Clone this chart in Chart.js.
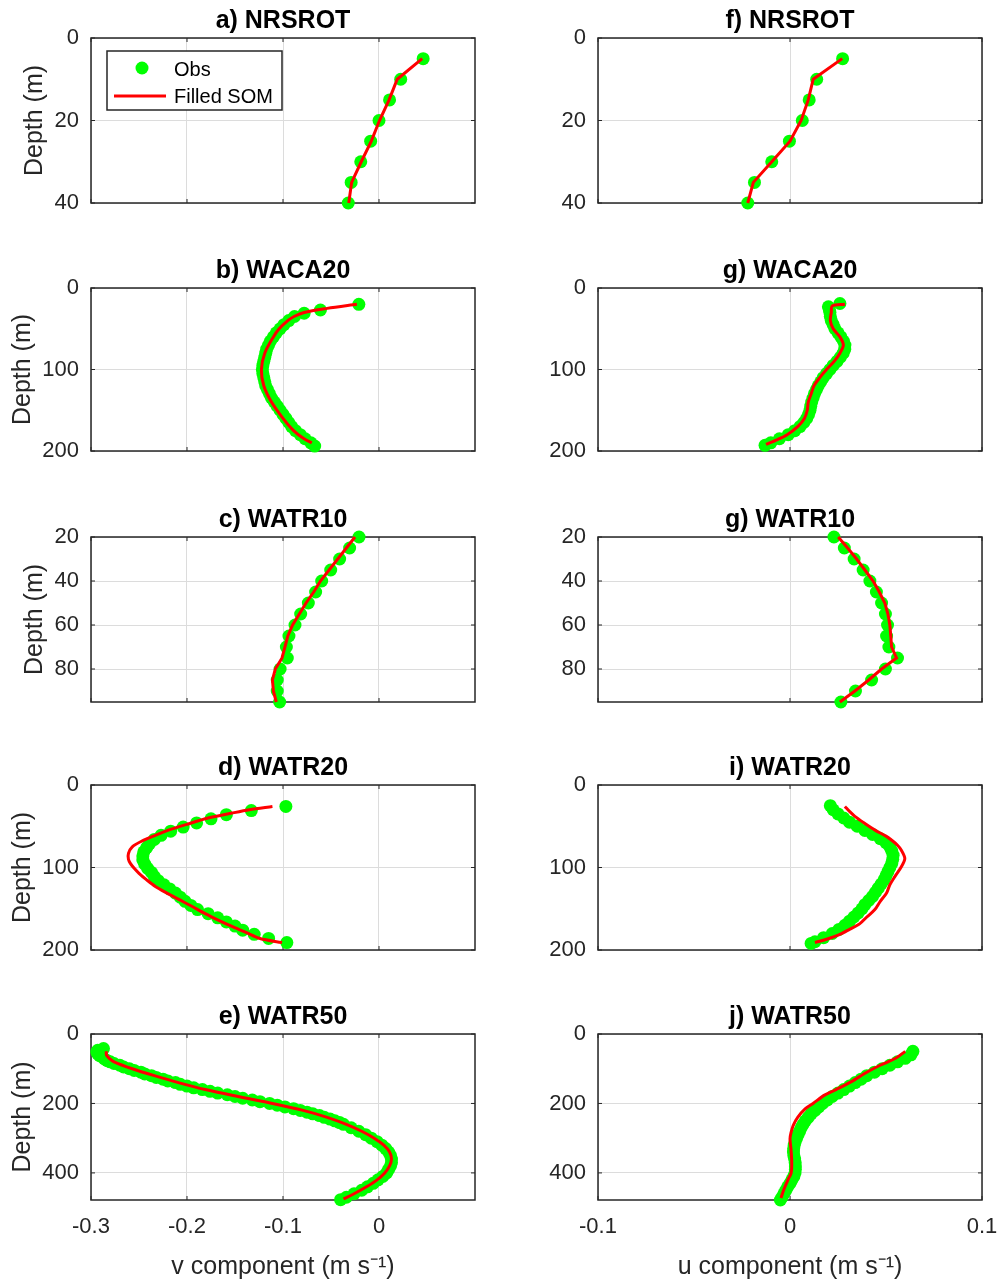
<!DOCTYPE html>
<html>
<head>
<meta charset="utf-8">
<title>Velocity profiles</title>
<script src="https://cdn.jsdelivr.net/npm/chart.js@4.4.0/dist/chart.umd.min.js"></script>
<style>
  html, body { margin: 0; padding: 0; background: #fff; }
  body { width: 1000px; height: 1284px; position: relative; overflow: hidden; }
  .panel { position: absolute; }
</style>
</head>
<body>
<script>
// a) NRSROT  v
const aObsDepth = [5, 10, 15, 20, 25, 30, 35, 40];
const aObsV = [0.046, 0.0226, 0.011, 0.0, -0.0087, -0.019, -0.029, -0.032];
const aSomDepth = [5, 10, 15, 20, 25, 30, 35, 40];
const aSomV = [0.045, 0.019, 0.0105, 0.0005, -0.008, -0.0185, -0.0285, -0.0315];

// f) NRSROT  u
const fObsDepth = [5, 10, 15, 20, 25, 30, 35, 40];
const fObsU = [0.0274, 0.0139, 0.010, 0.0064, -0.0003, -0.0095, -0.0185, -0.022];
const fSomDepth = [5, 10, 15, 20, 25, 30, 35, 40];
const fSomU = [0.0272, 0.0121, 0.0095, 0.0058, 0.0, -0.0095, -0.0191, -0.022];

// b) WACA20  v
const bObsDepth = [20, 27, 31, 35, 40, 45, 50, 55, 60, 65, 70, 75, 80, 85, 90, 95, 100, 105, 110, 115, 120, 125, 130, 135, 140, 145, 150, 155, 160, 165, 170, 175, 180, 185, 190, 194];
const bObsV = [-0.021, -0.061, -0.078, -0.088, -0.094, -0.099, -0.103, -0.107, -0.110, -0.113, -0.115, -0.117, -0.118, -0.119, -0.120, -0.121, -0.1215, -0.121, -0.120, -0.119, -0.118, -0.116, -0.114, -0.112, -0.109, -0.106, -0.103, -0.100, -0.097, -0.094, -0.091, -0.087, -0.082, -0.077, -0.071, -0.067];
const bSomDepth = [20, 25, 30, 35, 40, 50, 60, 80, 100, 120, 140, 160, 175, 185, 190];
const bSomV = [-0.023, -0.054, -0.078, -0.0885, -0.095, -0.104, -0.110, -0.119, -0.1225, -0.120, -0.112, -0.100, -0.089, -0.078, -0.070];

// g) WACA20  u
const gObsDepth = [19, 23, 27, 30, 35, 40, 45, 50, 55, 60, 65, 70, 75, 80, 85, 90, 95, 100, 105, 110, 115, 120, 125, 130, 135, 140, 145, 150, 155, 160, 165, 170, 175, 180, 185, 190, 193];
const gObsU = [0.026, 0.020, 0.0205, 0.0208, 0.021, 0.0215, 0.0225, 0.0234, 0.025, 0.0265, 0.0278, 0.0286, 0.0285, 0.0277, 0.0262, 0.0245, 0.0225, 0.0208, 0.019, 0.0173, 0.016, 0.0147, 0.0137, 0.0127, 0.012, 0.0113, 0.0108, 0.0104, 0.0097, 0.0087, 0.0072, 0.0052, 0.0025, -0.0009, -0.0055, -0.010, -0.013];
const gSomDepth = [20, 22, 30, 40, 50, 60, 70, 80, 90, 100, 110, 120, 130, 140, 150, 160, 170, 180, 186, 192];
const gSomU = [0.0286, 0.022, 0.0215, 0.021, 0.0225, 0.026, 0.0278, 0.026, 0.023, 0.019, 0.0155, 0.0125, 0.011, 0.0095, 0.009, 0.0075, 0.004, -0.0015, -0.0065, -0.0125];

// c) WATR10  v
const cObsDepth = [20, 25, 30, 35, 40, 45, 50, 55, 60, 65, 70, 75, 80, 85, 90, 95];
const cObsV = [-0.0208, -0.0306, -0.041, -0.0503, -0.0597, -0.066, -0.0736, -0.0816, -0.0875, -0.0938, -0.0965, -0.0955, -0.103, -0.106, -0.106, -0.1035];
const cSomDepth = [20, 25, 30, 35, 40, 45, 50, 55, 60, 65, 70, 75, 80, 85, 90, 95];
const cSomV = [-0.025, -0.034, -0.043, -0.052, -0.061, -0.068, -0.076, -0.083, -0.090, -0.095, -0.098, -0.101, -0.108, -0.111, -0.110, -0.107];

// g) WATR10  u
const hObsDepth = [20, 25, 30, 35, 40, 45, 50, 55, 60, 65, 70, 75, 80, 85, 90, 95];
const hObsU = [0.0229, 0.0283, 0.0334, 0.0381, 0.0416, 0.045, 0.0477, 0.0497, 0.0508, 0.0503, 0.0515, 0.056, 0.0497, 0.0425, 0.0341, 0.0265];
const hSomDepth = [20, 25, 30, 35, 40, 45, 50, 55, 60, 65, 70, 75, 80, 85, 90, 95];
const hSomU = [0.0251, 0.030, 0.0347, 0.039, 0.0433, 0.0465, 0.0494, 0.051, 0.052, 0.0525, 0.0529, 0.0555, 0.0477, 0.041, 0.0338, 0.026];

// d) WATR20  v
const dObsDepth = [26, 31, 36, 41, 46, 51, 56, 61, 66, 71, 76, 81, 86, 91, 96, 101, 106, 111, 116, 121, 126, 131, 136, 141, 146, 151, 156, 161, 166, 171, 176, 181, 186, 191];
const dObsV = [-0.097, -0.133, -0.159, -0.175, -0.190, -0.204, -0.217, -0.227, -0.234, -0.239, -0.242, -0.245, -0.246, -0.246, -0.244, -0.241, -0.237, -0.234, -0.230, -0.224, -0.218, -0.212, -0.207, -0.202, -0.196, -0.189, -0.178, -0.168, -0.159, -0.150, -0.142, -0.130, -0.115, -0.096];
const dSomDepth = [26, 30, 34, 40, 48, 55, 61, 68, 75, 83, 90, 95, 101, 107, 115, 123, 131, 139, 147, 156, 164, 172, 179, 186, 191];
const dSomV = [-0.111, -0.135, -0.153, -0.178, -0.201, -0.220, -0.233, -0.247, -0.257, -0.261, -0.261, -0.259, -0.255, -0.250, -0.242, -0.233, -0.221, -0.208, -0.195, -0.181, -0.167, -0.152, -0.138, -0.124, -0.101];

// i) WATR20  u
const iObsDepth = [25, 30, 35, 40, 45, 50, 55, 60, 65, 70, 75, 80, 85, 90, 95, 100, 105, 110, 115, 120, 125, 130, 135, 140, 145, 150, 155, 160, 165, 170, 175, 180, 185, 190, 192];
const iObsU = [0.021, 0.0225, 0.025, 0.028, 0.031, 0.035, 0.039, 0.043, 0.047, 0.050, 0.052, 0.053, 0.0537, 0.0535, 0.053, 0.052, 0.051, 0.050, 0.049, 0.0475, 0.046, 0.0445, 0.043, 0.041, 0.039, 0.0375, 0.0355, 0.0333, 0.031, 0.0286, 0.0255, 0.022, 0.0175, 0.013, 0.011];
const iSomDepth = [26, 32, 38, 45, 55, 62, 67, 73, 79, 89, 99, 111, 121, 131, 141, 151, 160, 168, 175, 182, 187, 191];
const iSomU = [0.0286, 0.031, 0.0338, 0.038, 0.0445, 0.050, 0.053, 0.056, 0.058, 0.0598, 0.058, 0.0546, 0.052, 0.0503, 0.047, 0.0442, 0.040, 0.0364, 0.031, 0.0251, 0.019, 0.013];

// e) WATR50  v
const eObsDepth = [42, 47, 52, 57, 62, 67, 72, 77, 80, 85, 90, 95, 100, 105, 110, 115, 120, 125, 130, 135, 140, 145, 150, 155, 160, 165, 170, 175, 180, 185, 190, 195, 200, 205, 210, 215, 220, 225, 230, 235, 240, 245, 250, 255, 260, 270, 280, 290, 300, 310, 320, 330, 340, 350, 360, 370, 380, 390, 400, 410, 420, 430, 440, 450, 460, 470, 477];
const eObsV = [-0.287, -0.293, -0.294, -0.293, -0.291, -0.288, -0.286, -0.283, -0.280, -0.276, -0.270, -0.266, -0.260, -0.255, -0.248, -0.244, -0.237, -0.232, -0.225, -0.220, -0.212, -0.207, -0.200, -0.193, -0.184, -0.176, -0.168, -0.158, -0.150, -0.142, -0.132, -0.124, -0.114, -0.106, -0.098, -0.089, -0.082, -0.075, -0.069, -0.062, -0.057, -0.051, -0.046, -0.041, -0.037, -0.029, -0.021, -0.014, -0.008, -0.002, 0.003, 0.007, 0.010, 0.012, 0.013, 0.013, 0.012, 0.010, 0.008, 0.004, -0.001, -0.006, -0.012, -0.018, -0.026, -0.034, -0.040];
const eSomDepth = [50, 60, 70, 80, 100, 120, 140, 160, 180, 200, 220, 240, 260, 280, 300, 320, 340, 360, 380, 400, 420, 440, 460, 475];
const eSomV = [-0.284, -0.284, -0.281, -0.276, -0.257, -0.234, -0.209, -0.181, -0.147, -0.111, -0.079, -0.054, -0.034, -0.018, -0.005, 0.005, 0.011, 0.013, 0.011, 0.006, -0.002, -0.013, -0.026, -0.037];

// j) WATR50  u
const jObsDepth = [50, 60, 70, 80, 90, 100, 110, 120, 130, 140, 150, 160, 170, 180, 190, 200, 210, 220, 230, 240, 250, 260, 270, 280, 290, 300, 310, 320, 330, 340, 350, 360, 370, 380, 390, 400, 410, 420, 430, 440, 450, 460, 470, 478];
const jObsU = [0.064, 0.063, 0.060, 0.056, 0.052, 0.048, 0.044, 0.040, 0.037, 0.034, 0.031, 0.028, 0.025, 0.022, 0.0195, 0.017, 0.015, 0.013, 0.011, 0.0095, 0.008, 0.0068, 0.0058, 0.005, 0.0042, 0.0034, 0.0027, 0.0022, 0.0019, 0.0018, 0.002, 0.0024, 0.0027, 0.0028, 0.0028, 0.0026, 0.002, 0.001, 0.0, -0.0012, -0.0022, -0.0032, -0.0042, -0.005];
const jSomDepth = [50, 70, 90, 110, 137, 160, 176, 200, 215, 240, 263, 285, 302, 331, 370, 400, 418, 445, 472];
const jSomU = [0.060, 0.055, 0.047, 0.040, 0.032, 0.024, 0.018, 0.012, 0.008, 0.004, 0.0017, 0.0005, 0.0, 0.0005, 0.0009, 0.0006, -0.0009, -0.003, -0.0047];

// tick labels
const vTicks = [-0.3, -0.2, -0.1, 0];
const vTickLabels = ['-0.3', '-0.2', '-0.1', '0'];
const uTicks = [-0.1, 0, 0.1];
const uTickLabels = ['-0.1', '0', '0.1'];
const depthTicks40 = [0, 20, 40];
const depthTicks200 = [0, 100, 200];
const depthTicks95 = [20, 40, 60, 80];
const depthTicks480 = [0, 200, 400];

const FONT = '"Liberation Sans", Arial, Helvetica, sans-serif';
const plotTop = [38, 288, 537, 785, 1034];
const plotH = [165, 163, 165, 165, 166];

const panels = [
  { title: 'a) NRSROT', col: 0, row: 0, oD: aObsDepth, oX: aObsV, sD: aSomDepth, sX: aSomV, yMin: 0, yMax: 40, yTicks: depthTicks40, tension: 0, legend: true },
  { title: 'b) WACA20', col: 0, row: 1, oD: bObsDepth, oX: bObsV, sD: bSomDepth, sX: bSomV, yMin: 0, yMax: 200, yTicks: depthTicks200, tension: 0.3 },
  { title: 'c) WATR10', col: 0, row: 2, oD: cObsDepth, oX: cObsV, sD: cSomDepth, sX: cSomV, yMin: 20, yMax: 95, yTicks: depthTicks95, tension: 0 },
  { title: 'd) WATR20', col: 0, row: 3, oD: dObsDepth, oX: dObsV, sD: dSomDepth, sX: dSomV, yMin: 0, yMax: 200, yTicks: depthTicks200, tension: 0.3 },
  { title: 'e) WATR50', col: 0, row: 4, oD: eObsDepth, oX: eObsV, sD: eSomDepth, sX: eSomV, yMin: 0, yMax: 478, yTicks: depthTicks480, tension: 0.3 },
  { title: 'f) NRSROT', col: 1, row: 0, oD: fObsDepth, oX: fObsU, sD: fSomDepth, sX: fSomU, yMin: 0, yMax: 40, yTicks: depthTicks40, tension: 0 },
  { title: 'g) WACA20', col: 1, row: 1, oD: gObsDepth, oX: gObsU, sD: gSomDepth, sX: gSomU, yMin: 0, yMax: 200, yTicks: depthTicks200, tension: 0.3 },
  { title: 'g) WATR10', col: 1, row: 2, oD: hObsDepth, oX: hObsU, sD: hSomDepth, sX: hSomU, yMin: 20, yMax: 95, yTicks: depthTicks95, tension: 0 },
  { title: 'i) WATR20', col: 1, row: 3, oD: iObsDepth, oX: iObsU, sD: iSomDepth, sX: iSomU, yMin: 0, yMax: 200, yTicks: depthTicks200, tension: 0.3 },
  { title: 'j) WATR50', col: 1, row: 4, oD: jObsDepth, oX: jObsU, sD: jSomDepth, sX: jSomU, yMin: 0, yMax: 478, yTicks: depthTicks480, tension: 0.3 }
];

// axes box + inward ticks like matlab
const frame = {
  id: 'frame',
  beforeDatasetsDraw(chart) {
    const { ctx, chartArea: a, scales } = chart;
    ctx.save();
    ctx.strokeStyle = '#262626';
    ctx.lineWidth = 1.5;
    ctx.strokeRect(a.left, a.top, a.right - a.left, a.bottom - a.top);
    ctx.lineWidth = 1;
    ctx.beginPath();
    scales.x.ticks.forEach(t => {
      const px = scales.x.getPixelForValue(t.value);
      ctx.moveTo(px, a.bottom); ctx.lineTo(px, a.bottom - 4);
      ctx.moveTo(px, a.top); ctx.lineTo(px, a.top + 4);
    });
    scales.y.ticks.forEach(t => {
      const py = scales.y.getPixelForValue(t.value);
      ctx.moveTo(a.left, py); ctx.lineTo(a.left + 4, py);
      ctx.moveTo(a.right, py); ctx.lineTo(a.right - 4, py);
    });
    ctx.stroke();
    ctx.restore();
  }
};

// legend box inside panel a
const inset = {
  id: 'inset',
  afterDatasetsDraw(chart) {
    const { ctx, chartArea: a } = chart;
    const x = a.left + 16, y = a.top + 13, w = 175, h = 59;
    const ds = chart.data.datasets;
    ctx.save();
    ctx.fillStyle = '#fff';
    ctx.fillRect(x, y, w, h);
    ctx.strokeStyle = '#262626';
    ctx.lineWidth = 1.5;
    ctx.strokeRect(x, y, w, h);
    ctx.fillStyle = '#00ff00';
    ctx.beginPath();
    ctx.arc(x + 35, y + 17, 6.5, 0, Math.PI * 2);
    ctx.fill();
    ctx.strokeStyle = '#ff0000';
    ctx.lineWidth = 3;
    ctx.beginPath();
    ctx.moveTo(x + 7, y + 45);
    ctx.lineTo(x + 59, y + 45);
    ctx.stroke();
    ctx.fillStyle = '#000';
    ctx.font = '20px ' + FONT;
    ctx.textBaseline = 'middle';
    ctx.fillText(ds[1].label, x + 67, y + 19);
    ctx.fillText(ds[0].label, x + 67, y + 46);
    ctx.restore();
  }
};

panels.forEach(p => {
  const bottomRow = p.row === 4;
  const xAxisH = bottomRow ? 84 : 16;
  const yAxisW = p.col === 0 ? 91 : 98;
  const h = 38 + plotH[p.row] + xAxisH;
  const div = document.createElement('div');
  div.className = 'panel';
  div.style.left = (p.col * 500) + 'px';
  div.style.top = (plotTop[p.row] - 38) + 'px';
  div.style.width = '500px';
  div.style.height = h + 'px';
  const canvas = document.createElement('canvas');
  canvas.width = 500;
  canvas.height = h;
  canvas.style.width = '500px';
  canvas.style.height = h + 'px';
  div.appendChild(canvas);
  document.body.appendChild(div);

  const xTicks = p.col === 0 ? vTicks : uTicks;
  const xLabels = p.col === 0 ? vTickLabels : uTickLabels;
  const twoDigit = p.yMax < 100;

  new Chart(canvas.getContext('2d'), {
    type: 'scatter',
    data: {
      datasets: [
        {
          label: 'Filled SOM',
          data: p.sD.map((d, i) => ({ x: p.sX[i], y: d })),
          showLine: true,
          borderColor: '#ff0000',
          borderWidth: 3,
          pointRadius: 0,
          tension: p.tension,
          order: 0,
          clip: false
        },
        {
          label: 'Obs',
          data: p.oD.map((d, i) => ({ x: p.oX[i], y: d })),
          pointRadius: 6.5,
          pointBorderWidth: 0,
          backgroundColor: '#00ff00',
          borderColor: '#00ff00',
          order: 1,
          clip: false
        }
      ]
    },
    options: {
      responsive: false,
      animation: false,
      events: [],
      layout: { padding: { left: 0, right: p.col === 0 ? 25 : 18, top: 0, bottom: 0 } },
      plugins: {
        legend: { display: false },
        tooltip: { enabled: false },
        title: {
          display: true,
          fullSize: false,
          text: p.title,
          color: '#000',
          font: { family: FONT, size: 25, weight: 'bold', lineHeight: 1.2 },
          padding: { top: 6, bottom: 2 }
        }
      },
      scales: {
        x: {
          type: 'linear',
          min: p.col === 0 ? -0.3 : -0.1,
          max: 0.1,
          afterBuildTicks: s => { s.ticks = xTicks.map(v => ({ value: v })); },
          afterFit: s => { s.height = xAxisH; s.paddingLeft = 0; s.paddingRight = 0; },
          grid: { color: '#dcdcdc', lineWidth: 1, drawTicks: false },
          border: { display: false },
          ticks: {
            display: bottomRow,
            padding: 14,
            color: '#262626',
            font: { family: FONT, size: 22 },
            maxRotation: 0,
            callback: (v, i) => xLabels[i]
          },
          title: {
            display: bottomRow,
            text: p.col === 0 ? 'v component (m s\u207B\u00B9)' : 'u component (m s\u207B\u00B9)',
            color: '#262626',
            font: { family: FONT, size: 25 },
            padding: { top: 0, bottom: 2 }
          }
        },
        y: {
          type: 'linear',
          reverse: true,
          min: p.yMin,
          max: p.yMax,
          afterBuildTicks: s => { s.ticks = p.yTicks.map(v => ({ value: v })); },
          afterFit: s => { s.width = yAxisW; s.paddingTop = 0; s.paddingBottom = 0; },
          grid: { color: '#dcdcdc', lineWidth: 1, drawTicks: false },
          border: { display: false },
          ticks: {
            padding: 12,
            color: '#262626',
            font: { family: FONT, size: 22 },
            callback: v => String(v)
          },
          title: {
            display: p.col === 0,
            text: 'Depth (m)',
            color: '#262626',
            font: { family: FONT, size: 25 },
            padding: { top: twoDigit ? 20 : 8, bottom: 0 }
          }
        }
      }
    },
    plugins: p.legend ? [frame, inset] : [frame]
  });
});
</script>
</body>
</html>
